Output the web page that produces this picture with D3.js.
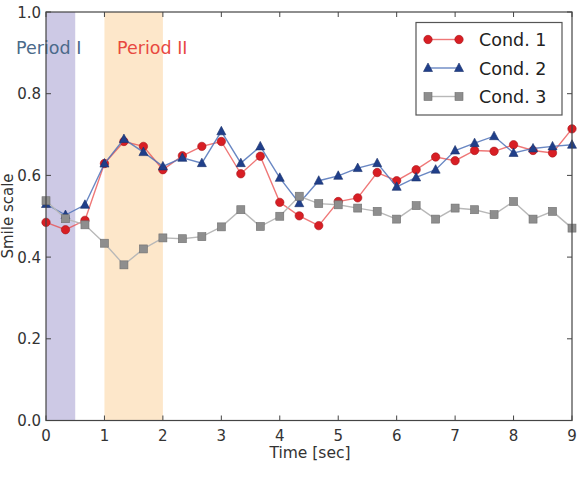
<!DOCTYPE html>
<html><head><meta charset="utf-8">
<script src="https://cdn.jsdelivr.net/npm/d3@7"></script>
<style>body{margin:0;background:#fff}svg{display:block}text{font-family:"DejaVu Sans",sans-serif}</style>
</head><body>
<svg id="c" width="582" height="487"></svg>
<script>
const times = [0,1/3,2/3,1,4/3,5/3,2,7/3,8/3,3,10/3,11/3,4,13/3,14/3,5,16/3,17/3,6,19/3,20/3,7,22/3,23/3,8,25/3,26/3,9];
const cond1 = [0.485,0.467,0.49,0.629,0.683,0.671,0.614,0.648,0.671,0.683,0.604,0.647,0.534,0.501,0.477,0.536,0.545,0.607,0.587,0.614,0.645,0.636,0.661,0.659,0.675,0.661,0.655,0.714];
const cond2 = [0.53,0.503,0.528,0.629,0.689,0.657,0.622,0.643,0.63,0.708,0.63,0.671,0.594,0.532,0.587,0.599,0.618,0.63,0.572,0.595,0.614,0.661,0.679,0.696,0.655,0.666,0.671,0.675];
const cond3 = [0.538,0.494,0.479,0.434,0.381,0.42,0.447,0.445,0.45,0.474,0.516,0.475,0.5,0.549,0.531,0.528,0.52,0.512,0.493,0.526,0.493,0.52,0.516,0.504,0.536,0.493,0.512,0.471];
const seriesNames = ["Cond. 1","Cond. 2","Cond. 3"];
const periods = [{name:"Period I", start:0, end:0.5}, {name:"Period II", start:1, end:2}];
const xTicks = [0,1,2,3,4,5,6,7,8,9];
const yTicks = [0,0.2,0.4,0.6,0.8,1.0];

const svg = d3.select("#c");
const L=46, R=572, T=12, B=420.5;
const x = d3.scaleLinear().domain([0,9]).range([L,R]);
const y = d3.scaleLinear().domain([0,1]).range([B,T]);

const pColors = ["#cdc9e5","#fde7ca"];
const pText = ["#4b6a8a","#e8493f"];
periods.forEach((p,i)=>{
  svg.append("rect").attr("x",x(p.start)).attr("y",T).attr("width",x(p.end)-x(p.start)).attr("height",B-T).attr("fill",pColors[i]);
});

const styles = [
  {line:"#ea4a4a", lo:0.75, fill:"#d81e24", stroke:"#a8141a", shape:"circle"},
  {line:"#4f72b8", lo:0.85, fill:"#203f8a", stroke:"#182f6a", shape:"tri"},
  {line:"#b8b8b8", lo:1, fill:"#8e8e8e", stroke:"#6f6f6f", shape:"sq"}
];
const data = [cond1,cond2,cond3];
function marker(g, st, cx, cy){
  if(st.shape==="circle") g.append("circle").attr("cx",cx).attr("cy",cy).attr("r",4.2).attr("fill",st.fill).attr("stroke",st.stroke).attr("stroke-width",0.6);
  else if(st.shape==="tri") g.append("path").attr("d",`M${cx},${cy-5}L${cx+4.5},${cy+3.5}L${cx-4.5},${cy+3.5}Z`).attr("fill",st.fill).attr("stroke",st.stroke).attr("stroke-width",0.6);
  else g.append("rect").attr("x",cx-4).attr("y",cy-4).attr("width",8).attr("height",8).attr("fill",st.fill).attr("stroke",st.stroke).attr("stroke-width",0.6);
}
const line = d3.line().x((d,i)=>x(times[i])).y(d=>y(d));
data.forEach((vals,k)=>{
  const st=styles[k];
  const g=svg.append("g");
  g.append("path").datum(vals).attr("d",line).attr("fill","none").attr("stroke",st.line).attr("stroke-opacity",st.lo).attr("stroke-width",1.4);
  vals.forEach((v,i)=>marker(g,st,x(times[i]),y(v)));
});

// period labels
svg.append("text").attr("x",16).attr("y",54).attr("font-size",17.5).attr("fill",pText[0]).text(periods[0].name);
svg.append("text").attr("x",117).attr("y",54).attr("font-size",17.5).attr("fill",pText[1]).text(periods[1].name);

// frame
svg.append("rect").attr("x",L).attr("y",T).attr("width",R-L).attr("height",B-T).attr("fill","none").attr("stroke","#444").attr("stroke-width",1.2);
// ticks
const tk=svg.append("g").attr("stroke","#444").attr("stroke-width",1);
xTicks.forEach(t=>{
  tk.append("line").attr("x1",x(t)).attr("x2",x(t)).attr("y1",B).attr("y2",B-5);
  tk.append("line").attr("x1",x(t)).attr("x2",x(t)).attr("y1",T).attr("y2",T+5);
  svg.append("text").attr("x",x(t)).attr("y",441).attr("text-anchor","middle").attr("font-size",15).attr("fill","#333").text(d3.format("d")(t));
});
yTicks.forEach(t=>{
  tk.append("line").attr("x1",L).attr("x2",L+5).attr("y1",y(t)).attr("y2",y(t));
  tk.append("line").attr("x1",R).attr("x2",R-5).attr("y1",y(t)).attr("y2",y(t));
  svg.append("text").attr("x",41).attr("y",y(t)+5.5).attr("text-anchor","end").attr("font-size",15).attr("fill","#333").text(d3.format(".1f")(t));
});
svg.append("text").attr("x",310).attr("y",458).attr("text-anchor","middle").attr("font-size",15.5).attr("fill","#333").text("Time [sec]");
svg.append("text").attr("transform","translate(13,216) rotate(-90)").attr("text-anchor","middle").attr("font-size",15).attr("fill","#333").text("Smile scale");

// legend
const lg=svg.append("g");
lg.append("rect").attr("x",416).attr("y",22.5).attr("width",146).attr("height",92.5).attr("fill","#fff").attr("stroke","#555").attr("stroke-width",1.2);
const ly=[39.5,68,96.5];
seriesNames.forEach((n,k)=>{
  const st=styles[k];
  lg.append("line").attr("x1",428).attr("x2",459).attr("y1",ly[k]).attr("y2",ly[k]).attr("stroke",st.line).attr("stroke-opacity",st.lo).attr("stroke-width",1.4);
  marker(lg,st,428,ly[k]); marker(lg,st,459,ly[k]);
  lg.append("text").attr("x",479).attr("y",ly[k]+6.5).attr("font-size",17.5).attr("fill","#222").text(n);
});
</script>
</body></html>
